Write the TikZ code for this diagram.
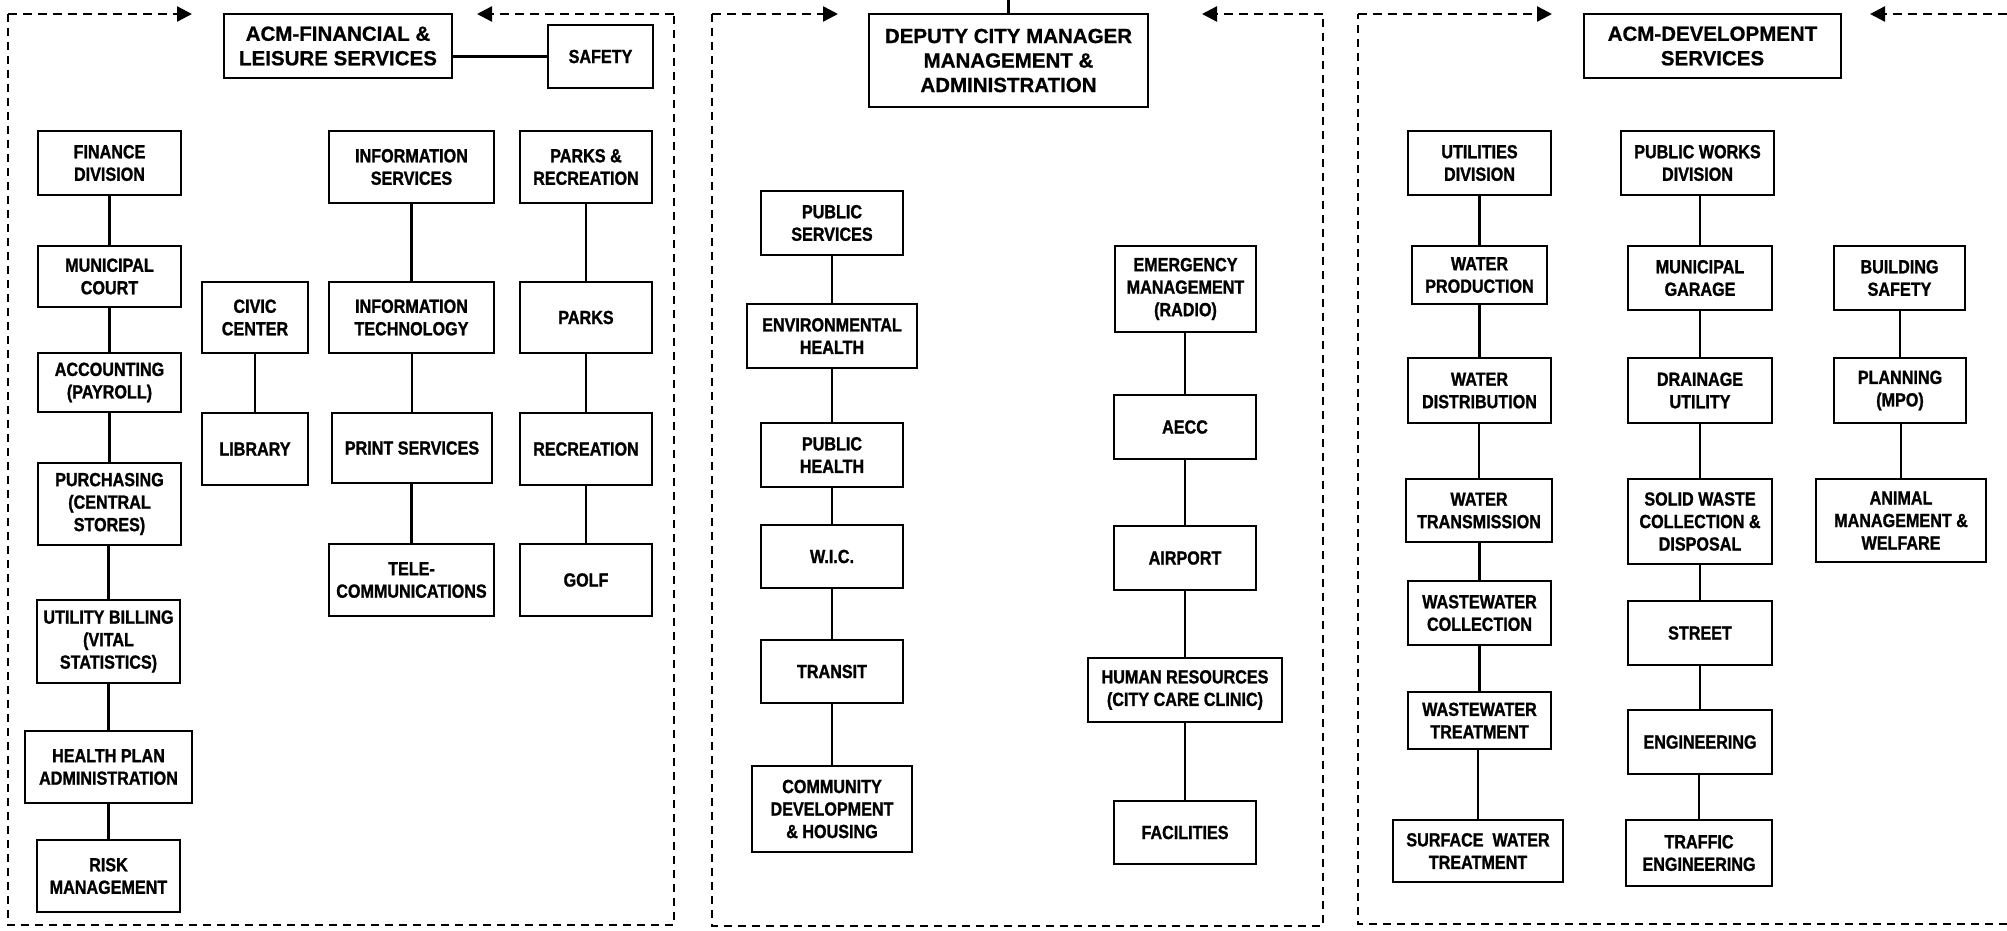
\documentclass[tikz,border=0pt]{standalone}
\usepackage{fontspec}
\setmainfont{Liberation Sans}[BoldFeatures={FakeBold=0.8}]
\newfontfamily\narrowfont{Liberation Sans}[FakeStretch=0.85, BoldFeatures={FakeStretch=0.85, FakeBold=1.2}]
\usetikzlibrary{arrows.meta}

\tikzset{
  unit/.style={draw, line width=2.6pt, align=center, inner sep=0pt,
    font=\narrowfont\bfseries\fontsize{19}{22.5}\selectfont},
  head/.style={draw, line width=2.6pt, align=center, inner sep=0pt,
    font=\bfseries\fontsize{20.5}{24.5}\selectfont},
  link/.style={line width=2.2pt},
  frame/.style={line width=2.4pt, dash pattern=on 8pt off 6pt},
  feed/.style={line width=2.4pt, dash pattern=on 9pt off 6pt,
    -{Triangle[length=15pt,width=15pt]}}
}

\begin{document}
\begin{tikzpicture}[x=1pt,y=-1pt]
  \useasboundingbox (0,0) rectangle (2007,931);

  % Financial & Leisure Services
  \node[head, minimum width=228pt, minimum height=64pt] (acmfl) at (338,46) {ACM-FINANCIAL \&\\LEISURE SERVICES};
  \node[unit, minimum width=105pt, minimum height=63pt] (safety) at (600.5,56.5) {SAFETY};
  \node[unit, minimum width=143pt, minimum height=64pt] (fin) at (109.5,163) {FINANCE\\DIVISION};
  \node[unit, minimum width=143pt, minimum height=61pt] (court) at (109.5,276.5) {MUNICIPAL\\COURT};
  \node[unit, minimum width=143pt, minimum height=59pt] (acct) at (109.5,382.5) {ACCOUNTING\\(PAYROLL)};
  \node[unit, minimum width=143pt, minimum height=82pt] (purch) at (109.5,504) {PURCHASING\\(CENTRAL\\STORES)};
  \node[unit, minimum width=143pt, minimum height=83pt] (bill) at (108.5,641.5) {UTILITY BILLING\\(VITAL\\STATISTICS)};
  \node[unit, minimum width=167pt, minimum height=72pt] (hplan) at (108.5,767) {HEALTH PLAN\\ADMINISTRATION};
  \node[unit, minimum width=143pt, minimum height=72pt] (risk) at (108.5,876) {RISK\\MANAGEMENT};
  \node[unit, minimum width=106pt, minimum height=71pt] (civic) at (255,317.5) {CIVIC\\CENTER};
  \node[unit, minimum width=106pt, minimum height=72pt] (lib) at (255,449) {LIBRARY};
  \node[unit, minimum width=165pt, minimum height=72pt] (infosvc) at (411.5,167) {INFORMATION\\SERVICES};
  \node[unit, minimum width=165pt, minimum height=71pt] (infotech) at (411.5,317.5) {INFORMATION\\TECHNOLOGY};
  \node[unit, minimum width=160pt, minimum height=70pt] (print) at (412,448) {PRINT SERVICES};
  \node[unit, minimum width=165pt, minimum height=72pt] (telecom) at (411.5,580) {TELE-\\COMMUNICATIONS};
  \node[unit, minimum width=132pt, minimum height=72pt] (parksrec) at (586,167) {PARKS \&\\RECREATION};
  \node[unit, minimum width=132pt, minimum height=71pt] (parks) at (586,317.5) {PARKS};
  \node[unit, minimum width=132pt, minimum height=72pt] (recr) at (586,449) {RECREATION};
  \node[unit, minimum width=132pt, minimum height=72pt] (golf) at (586,580) {GOLF};

  % Deputy City Manager
  \node[head, minimum width=279pt, minimum height=93pt] (deputy) at (1008.5,60.5) {DEPUTY CITY MANAGER\\MANAGEMENT \&\\ADMINISTRATION};
  \node[unit, minimum width=142pt, minimum height=64pt] (pubsvc) at (832,223) {PUBLIC\\SERVICES};
  \node[unit, minimum width=170pt, minimum height=64pt] (envh) at (832,336) {ENVIRONMENTAL\\HEALTH};
  \node[unit, minimum width=142pt, minimum height=64pt] (pubh) at (832,455) {PUBLIC\\HEALTH};
  \node[unit, minimum width=142pt, minimum height=63pt] (wic) at (832,556.5) {W.I.C.};
  \node[unit, minimum width=142pt, minimum height=63pt] (transit) at (832,671.5) {TRANSIT};
  \node[unit, minimum width=160pt, minimum height=86pt] (commdev) at (832,809) {COMMUNITY\\DEVELOPMENT\\\& HOUSING};
  \node[unit, minimum width=141pt, minimum height=86pt] (emerg) at (1185.5,289) {EMERGENCY\\MANAGEMENT\\(RADIO)};
  \node[unit, minimum width=142pt, minimum height=64pt] (aecc) at (1185,427) {AECC};
  \node[unit, minimum width=142pt, minimum height=64pt] (airport) at (1185,558) {AIRPORT};
  \node[unit, minimum width=194pt, minimum height=64pt] (hr) at (1185,690) {HUMAN RESOURCES\\(CITY CARE CLINIC)};
  \node[unit, minimum width=142pt, minimum height=63pt] (facil) at (1185,832.5) {FACILITIES};

  % Development Services
  \node[head, minimum width=257pt, minimum height=64pt] (acmdev) at (1712.5,46) {ACM-DEVELOPMENT\\SERVICES};
  \node[unit, minimum width=143pt, minimum height=64pt] (util) at (1479.5,163) {UTILITIES\\DIVISION};
  \node[unit, minimum width=135pt, minimum height=58pt] (wprod) at (1479.5,275) {WATER\\PRODUCTION};
  \node[unit, minimum width=143pt, minimum height=65pt] (wdist) at (1479.5,390.5) {WATER\\DISTRIBUTION};
  \node[unit, minimum width=146pt, minimum height=63pt] (wtrans) at (1479,510.5) {WATER\\TRANSMISSION};
  \node[unit, minimum width=143pt, minimum height=64pt] (wwcoll) at (1479.5,613) {WASTEWATER\\COLLECTION};
  \node[unit, minimum width=143pt, minimum height=57pt] (wwtreat) at (1479.5,720.5) {WASTEWATER\\TREATMENT};
  \node[unit, minimum width=170pt, minimum height=62pt] (surface) at (1478,851) {SURFACE~~WATER\\TREATMENT};
  \node[unit, minimum width=153pt, minimum height=64pt] (pworks) at (1697.5,163) {PUBLIC WORKS\\DIVISION};
  \node[unit, minimum width=144pt, minimum height=64pt] (garage) at (1700,278) {MUNICIPAL\\GARAGE};
  \node[unit, minimum width=144pt, minimum height=65pt] (drain) at (1700,390.5) {DRAINAGE\\UTILITY};
  \node[unit, minimum width=144pt, minimum height=85pt] (solid) at (1700,521.5) {SOLID WASTE\\COLLECTION \&\\DISPOSAL};
  \node[unit, minimum width=144pt, minimum height=64pt] (street) at (1700,633) {STREET};
  \node[unit, minimum width=144pt, minimum height=64pt] (engin) at (1700,742) {ENGINEERING};
  \node[unit, minimum width=146pt, minimum height=66pt] (traffic) at (1699,853) {TRAFFIC\\ENGINEERING};
  \node[unit, minimum width=131pt, minimum height=64pt] (bldg) at (1899.5,278) {BUILDING\\SAFETY};
  \node[unit, minimum width=132pt, minimum height=65pt] (plan) at (1900,390.5) {PLANNING\\(MPO)};
  \node[unit, minimum width=170pt, minimum height=83pt] (animal) at (1901,520.5) {ANIMAL\\MANAGEMENT \&\\WELFARE};

  % chains of command
  \foreach \a/\b in {fin/court, court/acct, acct/purch, purch/bill, bill/hplan, hplan/risk,
      civic/lib, infosvc/infotech, infotech/print, print/telecom,
      parksrec/parks, parks/recr, recr/golf,
      pubsvc/envh, envh/pubh, pubh/wic, wic/transit, transit/commdev,
      emerg/aecc, aecc/airport, airport/hr, hr/facil,
      util/wprod, wprod/wdist, wdist/wtrans, wtrans/wwcoll, wwcoll/wwtreat, wwtreat/surface,
      pworks/garage, garage/drain, drain/solid, solid/street, street/engin, engin/traffic,
      bldg/plan, plan/animal}
    \draw[link] (\b.north) -- (\b.north |- \a.south);
  \draw[link] (safety.west) -- (safety.west -| acmfl.east);
  \coordinate (cm) at (1008.5,0);
  \draw[link] (deputy.north) -- (cm);

  % dashed group frames
  \coordinate (fl-nw) at (8,14);   \coordinate (fl-ne) at (674,14);
  \coordinate (fl-sw) at (8,925);  \coordinate (fl-se) at (674,925);
  \coordinate (fl-in) at (192,14); \coordinate (fl-out) at (477,14);
  \draw[frame] (fl-nw) -- (fl-sw) -- (fl-se) -- (fl-ne);
  \draw[feed] (fl-nw) -- (fl-in);
  \draw[feed] (fl-ne) -- (fl-out);

  \coordinate (dc-nw) at (712,14);  \coordinate (dc-ne) at (1323,14);
  \coordinate (dc-sw) at (712,926); \coordinate (dc-se) at (1323,926);
  \coordinate (dc-in) at (838,14);  \coordinate (dc-out) at (1202,14);
  \draw[frame] (dc-nw) -- (dc-sw) -- (dc-se) -- (dc-ne);
  \draw[feed] (dc-nw) -- (dc-in);
  \draw[feed] (dc-ne) -- (dc-out);

  \coordinate (ds-nw) at (1358,14);  \coordinate (ds-ne) at (2007,14);
  \coordinate (ds-sw) at (1358,924); \coordinate (ds-se) at (2007,924);
  \coordinate (ds-in) at (1552,14);  \coordinate (ds-out) at (1870,14);
  \draw[frame] (ds-ne |- ds-se) -- (ds-sw) -- (ds-nw);
  \draw[feed] (ds-nw) -- (ds-in);
  \draw[feed] (ds-ne) -- (ds-out);
\end{tikzpicture}
\end{document}
